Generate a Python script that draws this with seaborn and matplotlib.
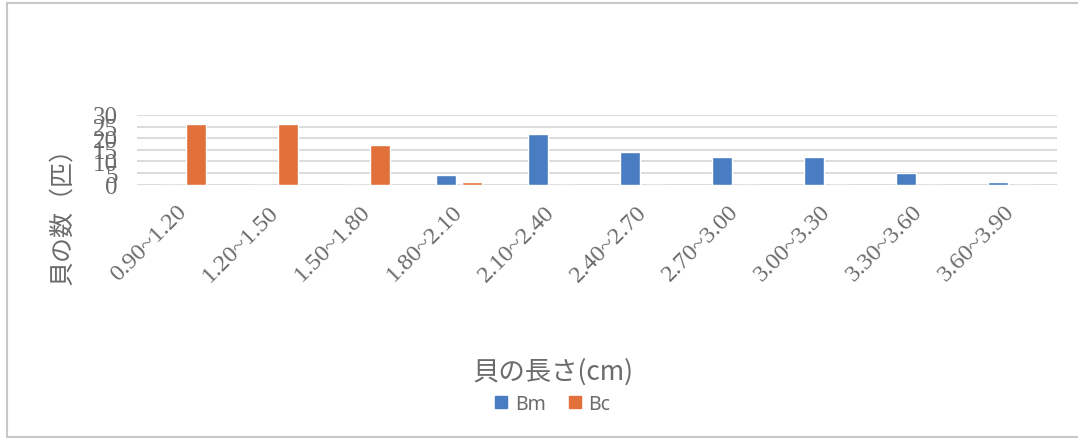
import matplotlib
matplotlib.use("Agg")
import matplotlib.pyplot as plt
import seaborn as sns
import pandas as pd
from matplotlib.lines import Line2D

categories = ["0.90~1.20", "1.20~1.50", "1.50~1.80", "1.80~2.10", "2.10~2.40",
              "2.40~2.70", "2.70~3.00", "3.00~3.30", "3.30~3.60", "3.60~3.90"]
bm_values = [0, 0, 0, 4, 22, 14, 12, 12, 5, 1]
bc_values = [26, 26, 17, 1, 0, 0, 0, 0, 0, 0]
series_names = ["Bm", "Bc"]
y_ticks = [0, 5, 10, 15, 20, 25, 30]

df = pd.DataFrame({
    "range": categories * 2,
    "count": bm_values + bc_values,
    "series": [series_names[0]] * len(categories) + [series_names[1]] * len(categories),
})

sns.set_style("white")
plt.rcParams['font.family'] = ['Noto Sans CJK JP', 'DejaVu Sans']

W, H = 1078, 439
fig = plt.figure(figsize=(W / 100, H / 100), dpi=100)
left, right, top, bottom = 137, 1057, 116, 185.7
ax = fig.add_axes([left / W, 1 - bottom / H, (right - left) / W, (bottom - top) / H])

blue = "#4a7cc2"
orange = "#e2703a"
text_grey = "#6b6b6b"

sns.barplot(data=df, x="range", y="count", hue="series", order=categories,
            hue_order=series_names, palette=[blue, orange], width=0.56, gap=0.2,
            ax=ax, legend=True, saturation=1)

leg = ax.get_legend()
if leg is not None:
    leg.remove()

ax.set_ylim(0, 30)
ax.set_yticks(y_ticks)
ax.set_xlim(-0.5, len(categories) - 0.5)
ax.yaxis.grid(True, color="#d6d6d6", linewidth=1.2)
ax.set_axisbelow(True)
for s in ax.spines.values():
    s.set_visible(False)

ax.tick_params(axis="y", length=0, pad=14, labelsize=18, labelcolor=text_grey)
ax.tick_params(axis="x", length=0, pad=17, labelsize=17.5, labelcolor=text_grey)
for lab in ax.get_yticklabels():
    lab.set_family(["Liberation Serif"])
ax.set_xticks(range(len(categories)))
ax.set_xticklabels(categories, rotation=45, ha="right", va="center",
                   rotation_mode="anchor", family=["Liberation Serif"])

ax.set_ylabel("貝の数（匹）", fontsize=18, color=text_grey)
ax.yaxis.set_label_coords((62 - left) / (right - left), -(210 - bottom) / (bottom - top))
ax.yaxis.label.set_va("center")
ax.set_xlabel("貝の長さ(cm)", fontsize=19, color=text_grey)
ax.xaxis.set_label_coords((553 - left) / (right - left), -(372 - bottom) / (bottom - top))
ax.xaxis.label.set_va("center")

handles = [plt.Rectangle((0, 0), 1, 1, color=blue), plt.Rectangle((0, 0), 1, 1, color=orange)]
fig.legend(handles, series_names, loc="center", bbox_to_anchor=(553 / W, 1 - 405 / H),
           ncol=2, frameon=False, handlelength=0.6, handleheight=0.6,
           handletextpad=0.4, columnspacing=1.2,
           prop={"family": ["Noto Sans", "DejaVu Sans"], "size": 14},
           labelcolor=text_grey)

border = "#c8c8c8"
fig.add_artist(Line2D([7 / W, 1], [1 - 4 / H, 1 - 4 / H], transform=fig.transFigure, color=border, lw=1.5))
fig.add_artist(Line2D([7 / W, 7 / W], [1 / H, 1 - 4 / H], transform=fig.transFigure, color=border, lw=1.5))
fig.add_artist(Line2D([7 / W, 1], [1 / H, 1 / H], transform=fig.transFigure, color=border, lw=1.5))

fig.savefig("out.png", dpi=100)
